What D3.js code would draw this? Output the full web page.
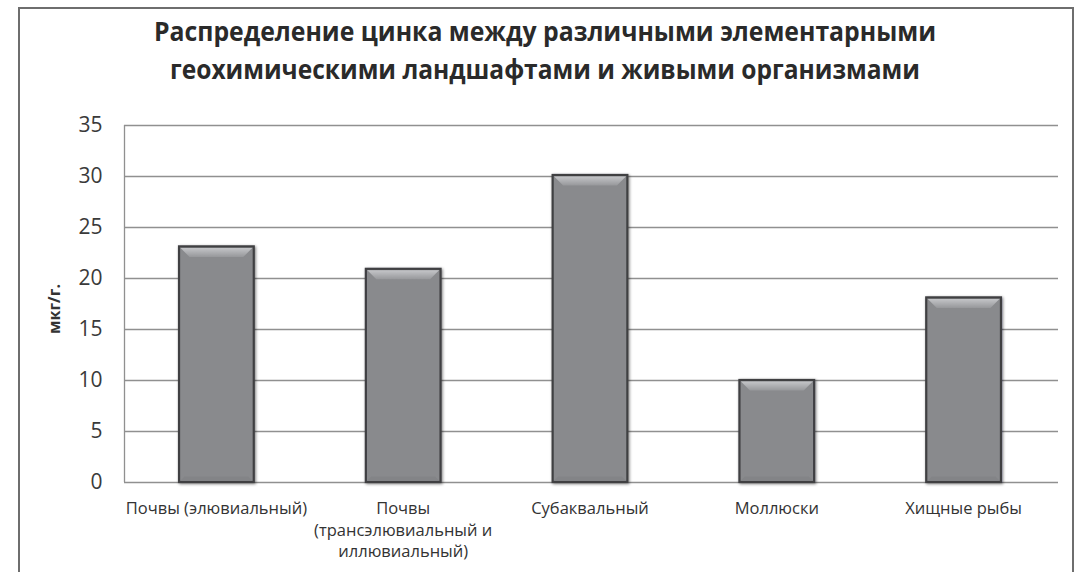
<!DOCTYPE html>
<html>
<head>
<meta charset="utf-8">
<script src="https://cdn.jsdelivr.net/npm/d3@7"></script>
<style>
  html, body { margin: 0; padding: 0; background: #fff; }
  svg { display: block; }
</style>
</head>
<body>
<svg id="chart" width="1080" height="572"></svg>
<script>
// Zinc content per landscape / organism group, µg/g
const categories = [
  ["Почвы (элювиальный)"],
  ["Почвы", "(трансэлювиальный и", "иллювиальный)"],
  ["Субаквальный"],
  ["Моллюски"],
  ["Хищные рыбы"]
];
const values = [23.1, 20.9, 30.1, 10, 18.1];
const yTicks = [0, 5, 10, 15, 20, 25, 30, 35];
const titleLines = [
  "Распределение цинка между различными элементарными",
  "геохимическими ландшафтами и живыми организмами"
];
const yTitle = "мкг/г.";

const svg = d3.select("#chart");
const W = 1080, H = 572;
const plot = { left: 124, right: 1058, top: 125, bottom: 482 };
const font = "'Open Sans', 'Noto Sans', sans-serif";

// outer chart frame
svg.append("rect")
  .attr("x", 19).attr("y", 8)
  .attr("width", 1054).attr("height", H + 20)
  .attr("fill", "#fff").attr("stroke", "#6e6e6e").attr("stroke-width", 2);

const defs = svg.append("defs");
const shadow = defs.append("filter").attr("id", "barShadow")
  .attr("x", "-20%").attr("y", "-10%").attr("width", "140%").attr("height", "120%");
shadow.append("feGaussianBlur").attr("in", "SourceAlpha").attr("stdDeviation", 1.6).attr("result", "b");
shadow.append("feOffset").attr("in", "b").attr("dx", 1).attr("dy", 1).attr("result", "o");
shadow.append("feComponentTransfer").attr("in", "o").attr("result", "s")
  .append("feFuncA").attr("type", "linear").attr("slope", 0.5);
const merge = shadow.append("feMerge");
merge.append("feMergeNode").attr("in", "s");
merge.append("feMergeNode").attr("in", "SourceGraphic");

const topBevel = defs.append("linearGradient").attr("id", "bevelTop")
  .attr("x1", 0).attr("y1", 0).attr("x2", 0).attr("y2", 1);
topBevel.append("stop").attr("offset", "0%").attr("stop-color", "#c4c5c8");
topBevel.append("stop").attr("offset", "100%").attr("stop-color", "#97989b");

// title
const title = svg.append("g").attr("class", "title");
titleLines.forEach((t, i) => {
  title.append("text")
    .attr("x", 545).attr("y", 41 + i * 38)
    .attr("text-anchor", "middle")
    .attr("font-family", font)
    .attr("font-weight", 700)
    .attr("font-size", 26)
    .attr("fill", "#2a2a2a")
    .attr("textLength", i === 0 ? 782 : 750)
    .attr("lengthAdjust", "spacingAndGlyphs")
    .text(t);
});

// scales
const x = d3.scaleBand()
  .domain(d3.range(categories.length))
  .range([plot.left, plot.right])
  .paddingInner(0.6).paddingOuter(0.3);
const y = d3.scaleLinear().domain([0, 35]).range([plot.bottom, plot.top]);

// gridlines
svg.append("g")
  .selectAll("line").data(yTicks).join("line")
  .attr("x1", plot.left).attr("x2", plot.right)
  .attr("y1", d => Math.round(y(d)) + 0.5).attr("y2", d => Math.round(y(d)) + 0.5)
  .attr("stroke", "#909090").attr("stroke-width", 1.3);

// y axis
const yAxis = svg.append("g")
  .attr("transform", `translate(${plot.left + 0.5},0)`)
  .call(d3.axisLeft(y).tickValues(yTicks).tickSize(0).tickPadding(22));
yAxis.select(".domain").attr("stroke", "#909090").attr("stroke-width", 1.3)
  .attr("d", `M0,${plot.top}V${plot.bottom}`);
yAxis.selectAll("text")
  .attr("font-family", font)
  .attr("font-size", 21).attr("fill", "#3a3a3a");

svg.append("text")
  .attr("transform", "translate(60,309) rotate(-90)")
  .attr("text-anchor", "middle")
  .attr("font-family", font)
  .attr("font-weight", 700).attr("font-size", 16).attr("fill", "#333")
  .text(yTitle);

// bars
const bars = svg.append("g").selectAll("g").data(values).join("g")
  .attr("filter", "url(#barShadow)");
bars.append("rect")
  .attr("x", (d, i) => x(i) - 1)
  .attr("y", d => y(d))
  .attr("width", x.bandwidth())
  .attr("height", d => y(0) - y(d))
  .attr("fill", "#898a8d")
  .attr("stroke", "#3f3f42").attr("stroke-width", 2.2);
// top bevel
bars.append("path")
  .attr("d", (d, i) => {
    const x0 = x(i) + 0.5, x1 = x(i) + x.bandwidth() - 2.5, t = y(d) + 1.5, b = 9;
    return `M${x0},${t}L${x1},${t}L${x1 - b},${t + b}L${x0 + b},${t + b}Z`;
  })
  .attr("fill", "url(#bevelTop)");
// bottom bevel
bars.append("path")
  .attr("d", (d, i) => {
    const x0 = x(i) + 0.5, x1 = x(i) + x.bandwidth() - 2.5, bt = y(0) - 1.5, b = 4;
    return `M${x0},${bt}L${x1},${bt}L${x1 - b},${bt - b}L${x0 + b},${bt - b}Z`;
  })
  .attr("fill", "#838487");

// category labels
const labels = svg.append("g").selectAll("text").data(categories).join("text")
  .attr("text-anchor", "middle")
  .attr("font-family", font)
  .attr("font-size", 16.5).attr("fill", "#333")
  .attr("x", (d, i) => x(i) + x.bandwidth() / 2 - 1)
  .attr("y", 514);
labels.selectAll("tspan").data(d => d).join("tspan")
  .attr("x", function () { return d3.select(this.parentNode).attr("x"); })
  .attr("dy", (d, j) => j === 0 ? 0 : 21.5)
  .text(d => d);
</script>
</body>
</html>
